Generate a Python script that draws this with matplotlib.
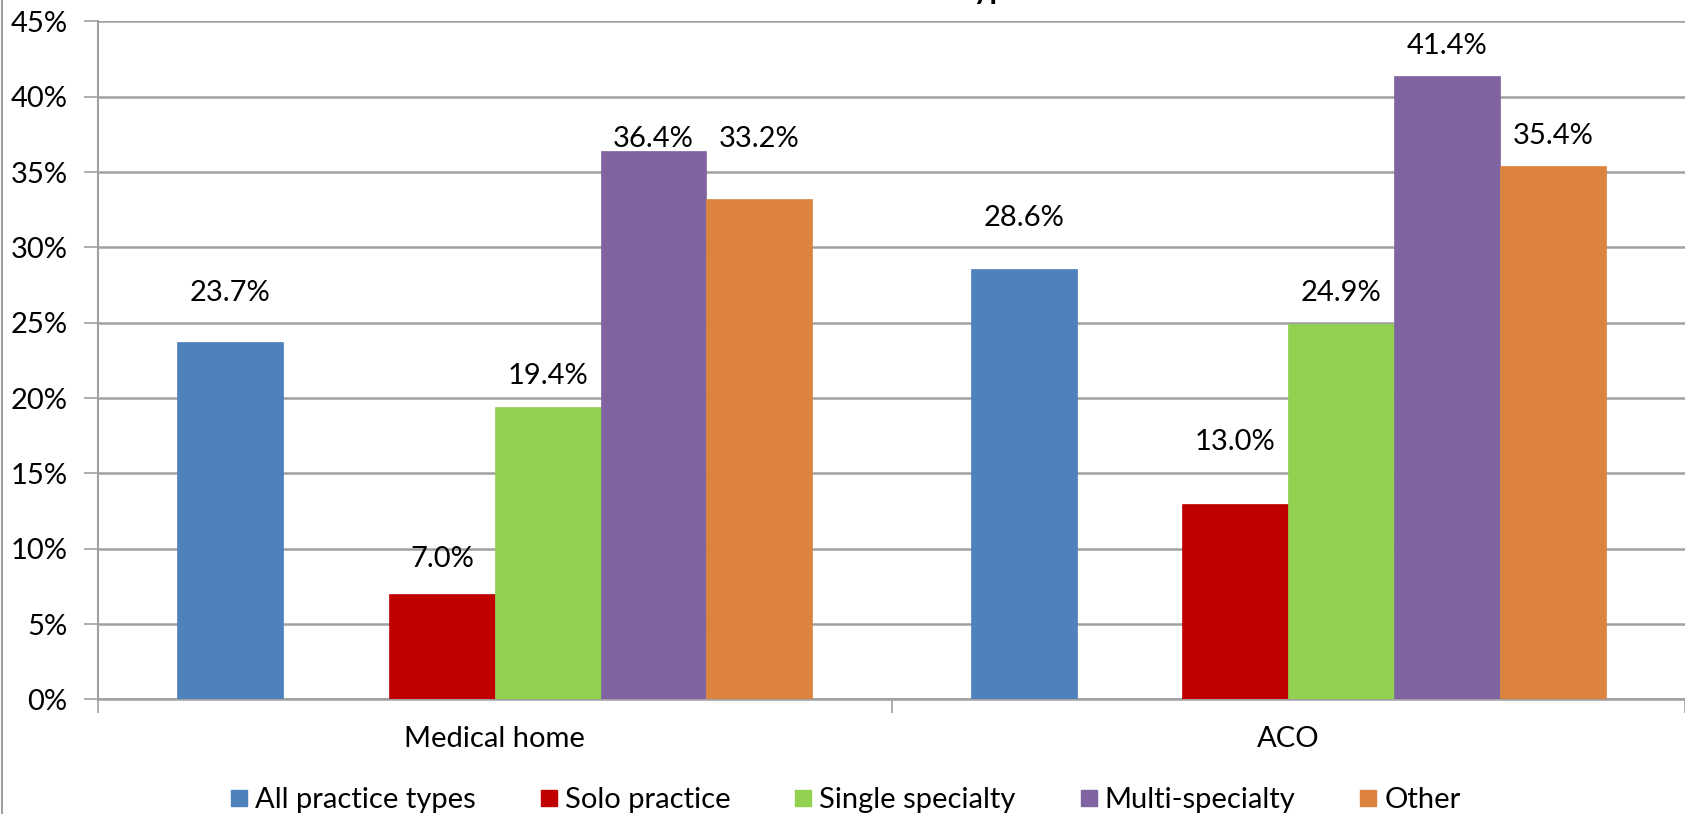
import numpy as np
import matplotlib.pyplot as plt
from matplotlib.lines import Line2D
from matplotlib.ticker import FixedLocator, NullFormatter

plt.rcParams['font.family'] = ['Lato', 'DejaVu Sans']

categories = ['Medical home', 'ACO']
series = ['All practice types', 'Solo practice', 'Single specialty', 'Multi-specialty', 'Other']
all_types = [23.7, 28.6]
solo = [7.0, 13.0]
single = [19.4, 24.9]
multi = [36.4, 41.4]
other = [33.2, 35.4]

# labels sit a little above each bar, by hand in the original sheet
label_lift = [[3.3, 3.35], [2.3, 4.1], [2.1, 2.1], [0.8, 2.0], [4.0, 2.0]]

colors = ['#4F81BD', '#C00000', '#92D050', '#8064A2', '#DC843F']
slots = [0, 2, 3, 4, 5]   # slot 1 is left empty
nslot = 6
gap = 1.5
w = 1.0 / (nslot + gap)
fs = 21

fig = plt.figure(figsize=(16.85, 8.14), dpi=100)
ax = fig.add_axes([0.0582, 0.1407, 0.9418, 0.8329])

x = np.arange(len(categories))
for vals, col, s, lift in zip([all_types, solo, single, multi, other], colors, slots, label_lift):
    xs = x - 0.5 + (gap / 2 + s + 0.5) * w
    ax.bar(xs, vals, width=w, color=col, edgecolor=col, lw=0.5, zorder=3)
    for xi, v, d in zip(xs, vals, lift):
        ax.text(xi, v + d, '%.1f%%' % v, ha='center', va='center', fontsize=fs, zorder=4)

ax.set_xlim(-0.5, 1.5)
ax.set_ylim(0, 45)
ax.set_yticks(np.arange(0, 46, 5))
ax.set_yticklabels(['%d%%' % t for t in range(0, 46, 5)], fontsize=fs)
ax.yaxis.grid(True, color='#A0A0A0', lw=1.8, zorder=0)

ax.xaxis.set_major_locator(FixedLocator([-0.5, 0.5, 1.5]))
ax.xaxis.set_major_formatter(NullFormatter())
ax.xaxis.set_minor_locator(FixedLocator(x))
ax.set_xticklabels(categories, minor=True, fontsize=fs)
ax.tick_params(axis='x', which='major', length=10, width=1.2, color='#A0A0A0')
ax.tick_params(axis='x', which='minor', length=0, pad=19)
ax.tick_params(axis='y', length=10, width=1.2, color='#A0A0A0', pad=12)

for side in ['top', 'right']:
    ax.spines[side].set_visible(False)
ax.spines['left'].set_color('#A0A0A0')
ax.spines['left'].set_linewidth(1.5)
ax.spines['bottom'].set_color('#A0A0A0')
ax.spines['bottom'].set_linewidth(1.8)

handles = [Line2D([], [], marker='s', ls='', markersize=12, color=c) for c in colors]
fig.legend(handles, series, loc='center', bbox_to_anchor=(0.5, 14 / 814), ncol=5,
           frameon=False, fontsize=fs, handletextpad=0.05, columnspacing=2.0,
           handlelength=1.0)

# title of the chart, mostly outside the top edge
fig.text(0.607, 1 + 1 / 814, 'Practice Type', ha='right', va='baseline',
         fontsize=22, fontweight='bold')

# outer chart border on the left
fig.add_artist(Line2D([2 / 1685, 2 / 1685], [0, 1], color='#A0A0A0', lw=1.5))

fig.savefig('out.png', dpi=100)
